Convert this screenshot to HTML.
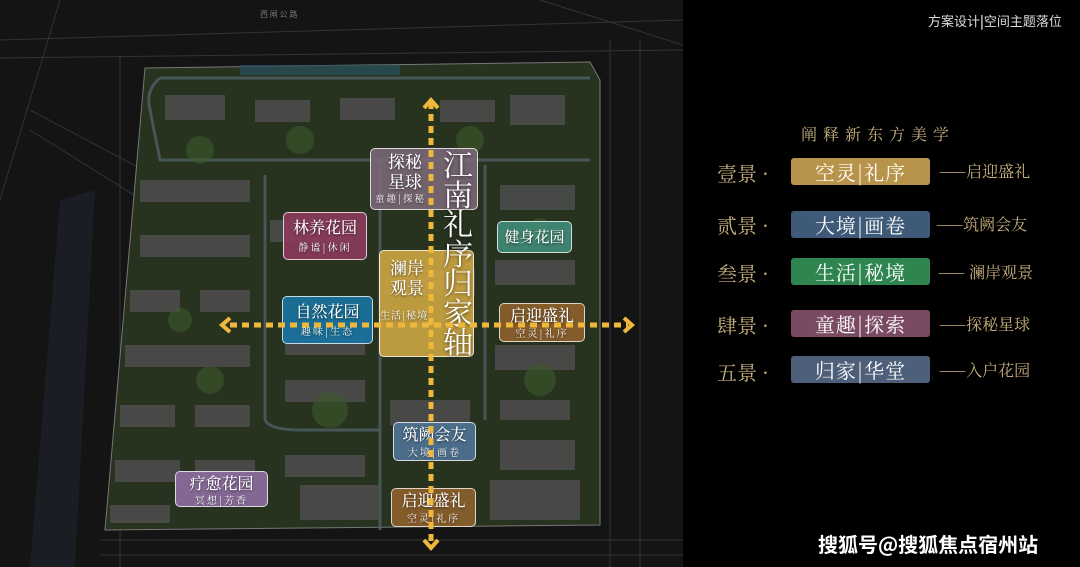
<!DOCTYPE html>
<html><head><meta charset="utf-8"><style>
*{margin:0;padding:0;box-sizing:border-box}
body{width:1080px;height:567px;overflow:hidden;background:#000;position:relative;font-family:"Liberation Serif","Noto Serif CJK SC",serif}
#map{position:absolute;left:0;top:0;width:683px;height:567px;background:#141414;overflow:hidden}
.lbl{position:absolute;border:1.5px solid rgba(255,255,255,.75);border-radius:5px;color:#fff;text-align:center;font-family:"Noto Serif CJK SC",serif;text-shadow:0 1px 2px rgba(0,0,0,.6)}
.lbl b{display:block;font-weight:500}
.lbl i{display:block;font-style:normal;font-size:10px;letter-spacing:2px}
.r{position:absolute;font-family:"Noto Serif CJK SC",serif;color:#c8b07e}
.box{position:absolute;left:791px;width:139px;height:27px;border-radius:3px;color:#fff;font-family:"Noto Serif CJK SC",serif;font-size:20px;line-height:27px;text-align:center;letter-spacing:1px}
</style></head><body>
<div id="map">
<svg width="683" height="567" style="position:absolute;left:0;top:0">
 <g stroke="#333" stroke-width="1" fill="none">
  <line x1="0" y1="40" x2="683" y2="20"/><line x1="0" y1="58" x2="683" y2="50"/>
  <line x1="120" y1="55" x2="120" y2="567"/><line x1="60" y1="0" x2="0" y2="200"/>
  <line x1="30" y1="110" x2="200" y2="200"/><line x1="30" y1="130" x2="190" y2="230"/>
  <line x1="610" y1="40" x2="610" y2="567"/><line x1="640" y1="40" x2="640" y2="567"/>
  <line x1="100" y1="540" x2="683" y2="540"/><line x1="100" y1="555" x2="683" y2="555"/>
  <line x1="540" y1="0" x2="683" y2="45"/>
 </g>
 <polygon points="60,200 95,190 75,567 30,567" fill="#1b1d24"/>
 <polygon points="145,68 590,62 600,80 600,525 105,530" fill="#27321f" stroke="#777" stroke-width="1"/>
 <g stroke="#4f6068" stroke-width="3" fill="none" opacity=".8">
  <path d="M160,78 H590 M160,78 Q145,90 150,110 L160,160 H590"/>
  <path d="M265,175 V420 Q270,430 300,430 H380"/>
  <path d="M485,165 V420"/>
  <path d="M380,160 V530"/>
 </g>
 <g fill="#4e4e4e" opacity=".85">
  <rect x="165" y="95" width="60" height="25"/><rect x="255" y="100" width="55" height="22"/><rect x="340" y="98" width="55" height="22"/><rect x="440" y="100" width="55" height="22"/><rect x="510" y="95" width="55" height="30"/>
  <rect x="140" y="180" width="110" height="22"/><rect x="140" y="235" width="110" height="22"/><rect x="130" y="290" width="50" height="22"/><rect x="200" y="290" width="50" height="22"/><rect x="125" y="345" width="125" height="22"/><rect x="120" y="405" width="55" height="22"/><rect x="195" y="405" width="55" height="22"/><rect x="115" y="460" width="65" height="22"/><rect x="195" y="460" width="60" height="22"/><rect x="110" y="505" width="60" height="18"/>
  <rect x="270" y="220" width="80" height="22"/><rect x="285" y="335" width="80" height="20"/><rect x="285" y="380" width="80" height="22"/><rect x="285" y="455" width="80" height="22"/>
  <rect x="500" y="185" width="75" height="25"/><rect x="495" y="260" width="80" height="25"/><rect x="495" y="345" width="80" height="25"/><rect x="500" y="400" width="70" height="20"/><rect x="500" y="440" width="75" height="30"/><rect x="490" y="480" width="90" height="40"/>
  <rect x="390" y="400" width="80" height="25"/><rect x="385" y="270" width="90" height="25"/><rect x="300" y="485" width="80" height="35"/>
 </g>
 <g fill="#3d5a2c" opacity=".6">
  <circle cx="200" cy="150" r="14"/><circle cx="300" cy="140" r="14"/><circle cx="470" cy="140" r="14"/><circle cx="330" cy="410" r="18"/><circle cx="540" cy="380" r="16"/><circle cx="210" cy="380" r="14"/><circle cx="180" cy="320" r="12"/><circle cx="540" cy="230" r="12"/>
 </g>
 <rect x="240" y="65" width="160" height="10" fill="#2a5060" opacity=".7"/>
 <text x="260" y="17" fill="#777" font-size="8" font-family="Noto Sans CJK SC">西 闸 公 路</text>
</svg>
<div class="lbl" style="left:370px;top:148px;width:108px;height:62px;background:rgba(125,105,122,.88);text-align:left">
 <b style="font-size:17px;line-height:20px;padding:2px 0 0 8px;width:60px;text-align:center">探秘<br>星球</b><i style="padding-left:4px;font-size:9.5px">童趣|探秘</i></div>
<div class="lbl" style="left:379px;top:250px;width:95px;height:107px;background:rgba(205,165,65,.9);text-align:left">
 <b style="font-size:17px;line-height:20px;padding:6px 0 0 4px;width:50px;text-align:center">澜岸<br>观景</b><i style="font-size:10px;letter-spacing:1px;margin-top:10px">生活|秘境</i></div>
<div style="position:absolute;left:440px;top:149px;width:36px;font-size:30px;line-height:29.5px;color:#fff;font-family:'Noto Serif CJK SC',serif;text-align:center;text-shadow:0 1px 3px rgba(0,0,0,.6)">江南礼序归家轴</div>
<div class="lbl" style="left:283px;top:212px;width:84px;height:48px;background:rgba(140,58,92,.9)"><b style="font-size:16px;line-height:24px;margin-top:2px">林养花园</b><i>静谧|休闲</i></div>
<div class="lbl" style="left:497px;top:221px;width:75px;height:32px;background:rgba(65,140,120,.9)"><b style="font-size:15px;line-height:29px">健身花园</b></div>
<div class="lbl" style="left:282px;top:296px;width:91px;height:48px;background:rgba(25,115,160,.92)"><b style="font-size:16px;line-height:24px;margin-top:2px">自然花园</b><i>趣味|生态</i></div>
<div class="lbl" style="left:499px;top:303px;width:86px;height:39px;background:rgba(140,95,45,.92)"><b style="font-size:16px;line-height:20px;margin-top:1px">启迎盛礼</b><i>空灵|礼序</i></div>
<div class="lbl" style="left:393px;top:422px;width:83px;height:39px;background:rgba(80,115,150,.9)"><b style="font-size:16px;line-height:20px;margin-top:1px">筑阙会友</b><i>大境|画卷</i></div>
<div class="lbl" style="left:175px;top:471px;width:93px;height:36px;background:rgba(140,108,158,.92)"><b style="font-size:16px;line-height:19px;margin-top:1px">疗愈花园</b><i>冥想|芳香</i></div>
<div class="lbl" style="left:391px;top:488px;width:85px;height:39px;background:rgba(140,95,45,.92)"><b style="font-size:16px;line-height:20px;margin-top:1px">启迎盛礼</b><i>空灵|礼序</i></div>
<svg width="683" height="567" style="position:absolute;left:0;top:0">
 <g stroke="#f0b83a" fill="none">
  <line x1="431" y1="102" x2="431" y2="545" stroke-width="5" stroke-dasharray="7 5"/>
  <line x1="230" y1="325" x2="628" y2="325" stroke-width="5" stroke-dasharray="7 5"/>
  <polyline points="424,108 431,100 438,108" stroke-width="4"/>
  <polyline points="424,540 431,548 438,540" stroke-width="4"/>
  <polyline points="230,318 222,325 230,332" stroke-width="4"/>
  <polyline points="624,318 632,325 624,332" stroke-width="4"/>
 </g>
</svg>
</div>
<div style="position:absolute;left:928px;top:11px;font-family:'Noto Sans CJK SC',sans-serif;font-size:13px;color:#ddd">方案设计<span style="font-weight:bold">|</span>空间主题落位</div>
<div class="r" style="left:801px;top:122px;font-size:16px;letter-spacing:6px">阐释新东方美学</div>
<div class="r" style="left:717px;top:158px;font-size:20px">壹景 ·</div>
<div class="r" style="left:717px;top:210px;font-size:20px">贰景 ·</div>
<div class="r" style="left:717px;top:258px;font-size:20px">叁景 ·</div>
<div class="r" style="left:717px;top:310px;font-size:20px">肆景 ·</div>
<div class="r" style="left:717px;top:357px;font-size:20px">五景 ·</div>
<div class="box" style="top:158px;background:#b8934a">空灵|礼序</div>
<div class="box" style="top:211px;background:#3f5a78">大境|画卷</div>
<div class="box" style="top:258px;background:#2e8550">生活|秘境</div>
<div class="box" style="top:310px;background:#7a4a62">童趣|探索</div>
<div class="box" style="top:356px;background:#4e6079">归家|华堂</div>
<div class="r" style="left:939px;top:159px;font-size:16px">——启迎盛礼</div>
<div class="r" style="left:936px;top:212px;font-size:16px">——筑阙会友</div>
<div class="r" style="left:938px;top:260px;font-size:16px">—— 澜岸观景</div>
<div class="r" style="left:939px;top:312px;font-size:16px">——探秘星球</div>
<div class="r" style="left:939px;top:358px;font-size:16px">——入户花园</div>
<div style="position:absolute;left:818px;top:529px;font-family:'Noto Sans CJK SC',sans-serif;font-size:20px;font-weight:bold;color:#fff">搜狐号@搜狐焦点宿州站</div>
</body></html>
